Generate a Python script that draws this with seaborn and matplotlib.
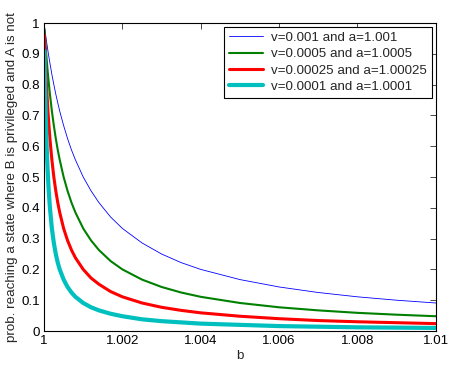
import pandas as pd
import matplotlib.pyplot as plt
import seaborn as sns

# b values (x axis)
b_values = [1.00001, 1.00002, 1.00003, 1.00004, 1.00005, 1.00006, 1.00008, 1.0001,
            1.00012, 1.00015, 1.0002, 1.00025, 1.0003, 1.00035, 1.0004, 1.0005,
            1.0006, 1.0007, 1.0008, 1.001, 1.0012, 1.0014, 1.0017, 1.002, 1.0025,
            1.003, 1.0035, 1.004, 1.005, 1.006, 1.007, 1.008, 1.009, 1.01]

# curves
prob_v001 = [0.990, 0.980, 0.971, 0.962, 0.952, 0.943, 0.926, 0.909, 0.893, 0.870,
             0.833, 0.800, 0.769, 0.741, 0.714, 0.667, 0.625, 0.588, 0.556, 0.500,
             0.455, 0.417, 0.370, 0.333, 0.286, 0.250, 0.222, 0.200, 0.167, 0.143,
             0.125, 0.111, 0.100, 0.091]
prob_v0005 = [0.980, 0.962, 0.943, 0.926, 0.909, 0.893, 0.862, 0.833, 0.806, 0.769,
              0.714, 0.667, 0.625, 0.588, 0.556, 0.500, 0.455, 0.417, 0.385, 0.333,
              0.294, 0.263, 0.227, 0.200, 0.167, 0.143, 0.125, 0.111, 0.091, 0.077,
              0.067, 0.059, 0.053, 0.048]
prob_v00025 = [0.962, 0.926, 0.893, 0.862, 0.833, 0.806, 0.758, 0.714, 0.676, 0.625,
               0.556, 0.500, 0.455, 0.417, 0.385, 0.333, 0.294, 0.263, 0.238, 0.200,
               0.172, 0.152, 0.128, 0.111, 0.091, 0.077, 0.067, 0.059, 0.048, 0.040,
               0.034, 0.030, 0.027, 0.024]
prob_v0001 = [0.909, 0.833, 0.769, 0.714, 0.667, 0.625, 0.556, 0.500, 0.455, 0.400,
              0.333, 0.286, 0.250, 0.222, 0.200, 0.167, 0.143, 0.125, 0.111, 0.091,
              0.077, 0.067, 0.056, 0.048, 0.038, 0.032, 0.028, 0.024, 0.020, 0.016,
              0.014, 0.012, 0.011, 0.010]

labels = ['v=0.001 and a=1.001', 'v=0.0005 and a=1.0005',
          'v=0.00025 and a=1.00025', 'v=0.0001 and a=1.0001']
series = [prob_v001, prob_v0005, prob_v00025, prob_v0001]
colors = ['#0000ff', '#008000', '#ff0000', '#00bfbf']
widths = [0.6, 1.5, 2.2, 3.0]

x_ticks = [1, 1.002, 1.004, 1.006, 1.008, 1.01]
x_tick_labels = ['1', '1.002', '1.004', '1.006', '1.008', '1.01']
y_ticks = [0, 0.1, 0.2, 0.3, 0.4, 0.5, 0.6, 0.7, 0.8, 0.9, 1]
y_tick_labels = ['0', '0.1', '0.2', '0.3', '0.4', '0.5', '0.6', '0.7', '0.8', '0.9', '1']

sns.set_style("white")
plt.rcParams['font.family'] = ['Liberation Sans', 'DejaVu Sans']
fs = 9.6

fig = plt.figure(figsize=(4.54, 3.68), dpi=100)
ax = fig.add_axes([0.097, 0.1005, 0.863, 0.837])

for lab, vals, col, lw in zip(labels, series, colors, widths):
    df = pd.DataFrame({'b': b_values, 'prob': vals})
    sns.lineplot(data=df, x='b', y='prob', color=col, linewidth=lw, label=lab, ax=ax)

ax.set_xlim(1, 1.01)
ax.set_ylim(0, 1)
ax.set_xticks(x_ticks)
ax.set_xticklabels(x_tick_labels)
ax.set_yticks(y_ticks)
ax.set_yticklabels(y_tick_labels)
ax.tick_params(direction='in', length=4, width=0.5, top=True, right=True,
               labelsize=fs, pad=3, colors='black')
for sp in ax.spines.values():
    sp.set_color('black')
    sp.set_linewidth(0.8)

ax.set_xlabel('b', fontsize=fs, labelpad=2)
ax.set_ylabel('prob. reaching a state where B is privileged and A is not', fontsize=fs, labelpad=2)

leg = ax.legend(loc='upper right', bbox_to_anchor=(0.99, 0.987), borderaxespad=0,
                fancybox=False, framealpha=1, edgecolor='black', fontsize=fs,
                handlelength=2.6, borderpad=0.35, labelspacing=0.3, handletextpad=0.6)
leg.get_frame().set_linewidth(0.8)

fig.savefig('out.png', dpi=100)
plt.close(fig)
